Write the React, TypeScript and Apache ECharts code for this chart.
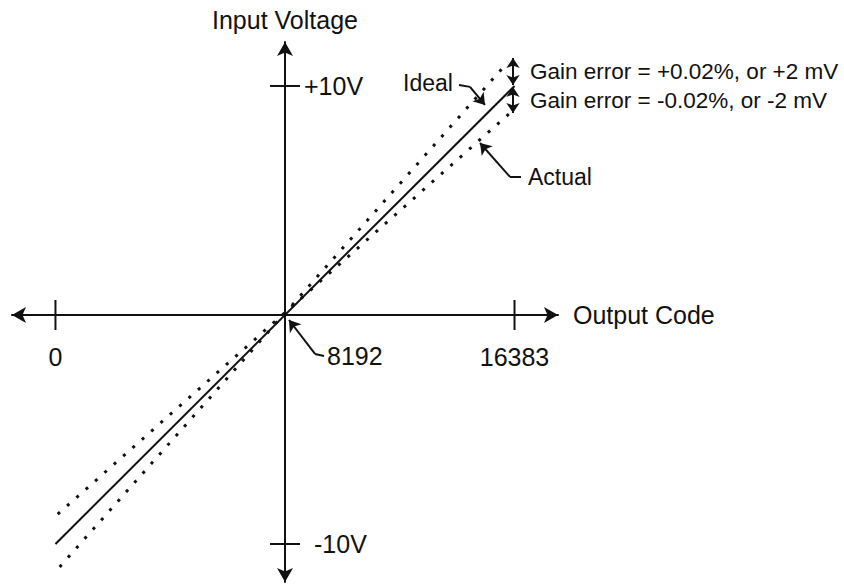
import React, { useEffect, useRef } from 'react';
import * as echarts from 'echarts';

// ---- data ----
const CENTER_CODE = 8192;
const xTickCodes = [0, 16383];
const xTickLabels = ['0', '16383'];
const yTickVolts = [10, -10];
const yTickLabels = ['+10V', '-10V'];
const centerLabel = '8192';

const idealCodes = [0, 16383];
const idealVolts = [-10, 10];
const plusGainCodes = [150, 16150];
const plusGainVolts = [-11.0, 11.05];
const minusGainCodes = [80, 16260];
const minusGainVolts = [-8.7, 8.86];

const gainArrowCode = 16329;
const plusArrowVolts = [11.22, 10.04];
const minusArrowVolts = [9.96, 8.82];

// callout leaders: [code, volt]
const idealLeader = [[14402, 10.04], [14794, 9.96]];
const idealPointer = [[14794, 9.96], [15330, 9.17]];
const actualLeader = [[16615, 6.03], [16222, 6.03]];
const actualPointer = [[16222, 6.03], [15151, 7.51]];
const centerLeader = [[9584, -1.79], [9263, -1.7]];
const centerPointer = [[9263, -1.7], [8335, -0.22]];

const annotationTexts = {
  ideal: 'Ideal',
  actual: 'Actual',
  plus: 'Gain error = +0.02%, or +2 mV',
  minus: 'Gain error = -0.02%, or -2 mV',
};

const FONT = '"Liberation Sans", Arial, Helvetica, sans-serif';
const INK = '#111111';

const sx = (c: number) => c - CENTER_CODE;
const toPt = (p: number[]) => [sx(p[0]), p[1]];

export default function App() {
  const ref = useRef<HTMLDivElement>(null);
  useEffect(() => {
    if (!ref.current) return;
    const chart = echarts.init(ref.current, undefined, { renderer: 'svg' });
    const line = (codes: number[], volts: number[]) => codes.map((c, i) => [sx(c), volts[i]]);
    const textStyleBase = { fontFamily: FONT, color: INK, opacity: 1 };
    const option: any = {
      animation: false,
      backgroundColor: '#ffffff',
      grid: { left: 12, top: 42, width: 546, height: 540, containLabel: false },
      xAxis: {
        type: 'value',
        min: -9743,
        max: 9743,
        name: 'Output Code',
        nameLocation: 'end',
        nameGap: 15,
        nameTextStyle: { ...textStyleBase, fontSize: 25, verticalAlign: 'middle' },
        axisLine: {
          onZero: true,
          symbol: ['arrow', 'arrow'],
          symbolSize: [12, 14],
          lineStyle: { color: INK, width: 2 },
        },
        axisTick: { show: false },
        axisLabel: { show: false },
        splitLine: { show: false },
      },
      yAxis: {
        type: 'value',
        min: -11.66,
        max: 11.92,
        name: 'Input Voltage',
        nameLocation: 'end',
        nameGap: 10,
        nameTextStyle: { ...textStyleBase, fontSize: 25 },
        axisLine: {
          onZero: true,
          symbol: ['arrow', 'arrow'],
          symbolSize: [12, 14],
          lineStyle: { color: INK, width: 2 },
        },
        axisTick: { show: false },
        axisLabel: { show: false },
        splitLine: { show: false },
      },
      series: [
        {
          type: 'line',
          data: line(idealCodes, idealVolts),
          symbol: 'none',
          lineStyle: { color: INK, width: 2 },
          silent: true,
        },
        {
          type: 'line',
          data: line(plusGainCodes, plusGainVolts),
          symbol: 'none',
          lineStyle: { color: INK, width: 3, type: [3, 9.5] },
          silent: true,
        },
        {
          type: 'line',
          data: line(minusGainCodes, minusGainVolts),
          symbol: 'none',
          lineStyle: { color: INK, width: 3, type: [3, 9.5] },
          silent: true,
        },
        // tick crosses on x axis
        {
          type: 'scatter',
          data: xTickCodes.map((c, i) => ({ value: [sx(c), 0], name: xTickLabels[i] })),
          symbol: 'rect',
          symbolSize: [2, 30],
          itemStyle: { color: INK, opacity: 1 },
          label: {
            show: true,
            position: 'inside',
            offset: [0, 42],
            formatter: (p: any) => p.name,
            ...textStyleBase,
            fontSize: 25,
          },
          silent: true,
        },
        // tick crosses on y axis
        {
          type: 'scatter',
          data: yTickVolts.map((v, i) => ({
            value: [0, v],
            name: yTickLabels[i],
            label: { distance: i === 0 ? 4 : 14 },
          })),
          symbol: 'rect',
          symbolSize: [30, 2],
          itemStyle: { color: INK, opacity: 1 },
          label: {
            show: true,
            position: 'right',
            formatter: (p: any) => p.name,
            ...textStyleBase,
            fontSize: 25,
          },
          silent: true,
        },
        // plain leader segments
        {
          type: 'lines',
          coordinateSystem: 'cartesian2d',
          symbol: ['none', 'none'],
          lineStyle: { color: INK, width: 2, opacity: 1 },
          data: [idealLeader, actualLeader, centerLeader].map((seg) => ({ coords: seg.map(toPt) })),
          silent: true,
        },
        // pointer segments with arrowheads
        {
          type: 'lines',
          coordinateSystem: 'cartesian2d',
          symbol: ['none', 'arrow'],
          symbolSize: 11,
          lineStyle: { color: INK, width: 2, opacity: 1 },
          data: [idealPointer, actualPointer, centerPointer].map((seg) => ({ coords: seg.map(toPt) })),
          silent: true,
        },
        // gain error double arrows
        {
          type: 'lines',
          coordinateSystem: 'cartesian2d',
          symbol: ['arrow', 'arrow'],
          symbolSize: 10,
          lineStyle: { color: INK, width: 2, opacity: 1 },
          data: [plusArrowVolts, minusArrowVolts].map((vs) => ({
            coords: [
              [sx(gainArrowCode), vs[0]],
              [sx(gainArrowCode), vs[1]],
            ],
          })),
          silent: true,
        },
      ],
      graphic: [
        {
          type: 'text',
          x: 403,
          y: 83,
          style: {
            text: annotationTexts.ideal,
            font: `23px ${FONT}`,
            fill: INK,
            textAlign: 'left',
            textVerticalAlign: 'middle',
          },
        },
        {
          type: 'text',
          x: 528,
          y: 177,
          style: {
            text: annotationTexts.actual,
            font: `23px ${FONT}`,
            fill: INK,
            textAlign: 'left',
            textVerticalAlign: 'middle',
          },
        },
        {
          type: 'text',
          x: 530,
          y: 71,
          style: {
            text: annotationTexts.plus,
            font: `22.5px ${FONT}`,
            fill: INK,
            textAlign: 'left',
            textVerticalAlign: 'middle',
          },
        },
        {
          type: 'text',
          x: 530,
          y: 100,
          style: {
            text: annotationTexts.minus,
            font: `22.5px ${FONT}`,
            fill: INK,
            textAlign: 'left',
            textVerticalAlign: 'middle',
          },
        },
        {
          type: 'text',
          x: 327,
          y: 356,
          style: {
            text: centerLabel,
            font: `25px ${FONT}`,
            fill: INK,
            textAlign: 'left',
            textVerticalAlign: 'middle',
          },
        },
      ],
    };
    chart.setOption(option);
    return () => chart.dispose();
  }, []);
  return (
    <div
      ref={ref}
      style={{ position: 'fixed', left: 0, top: 0, width: 844, height: 584, background: '#fff' }}
    />
  );
}
